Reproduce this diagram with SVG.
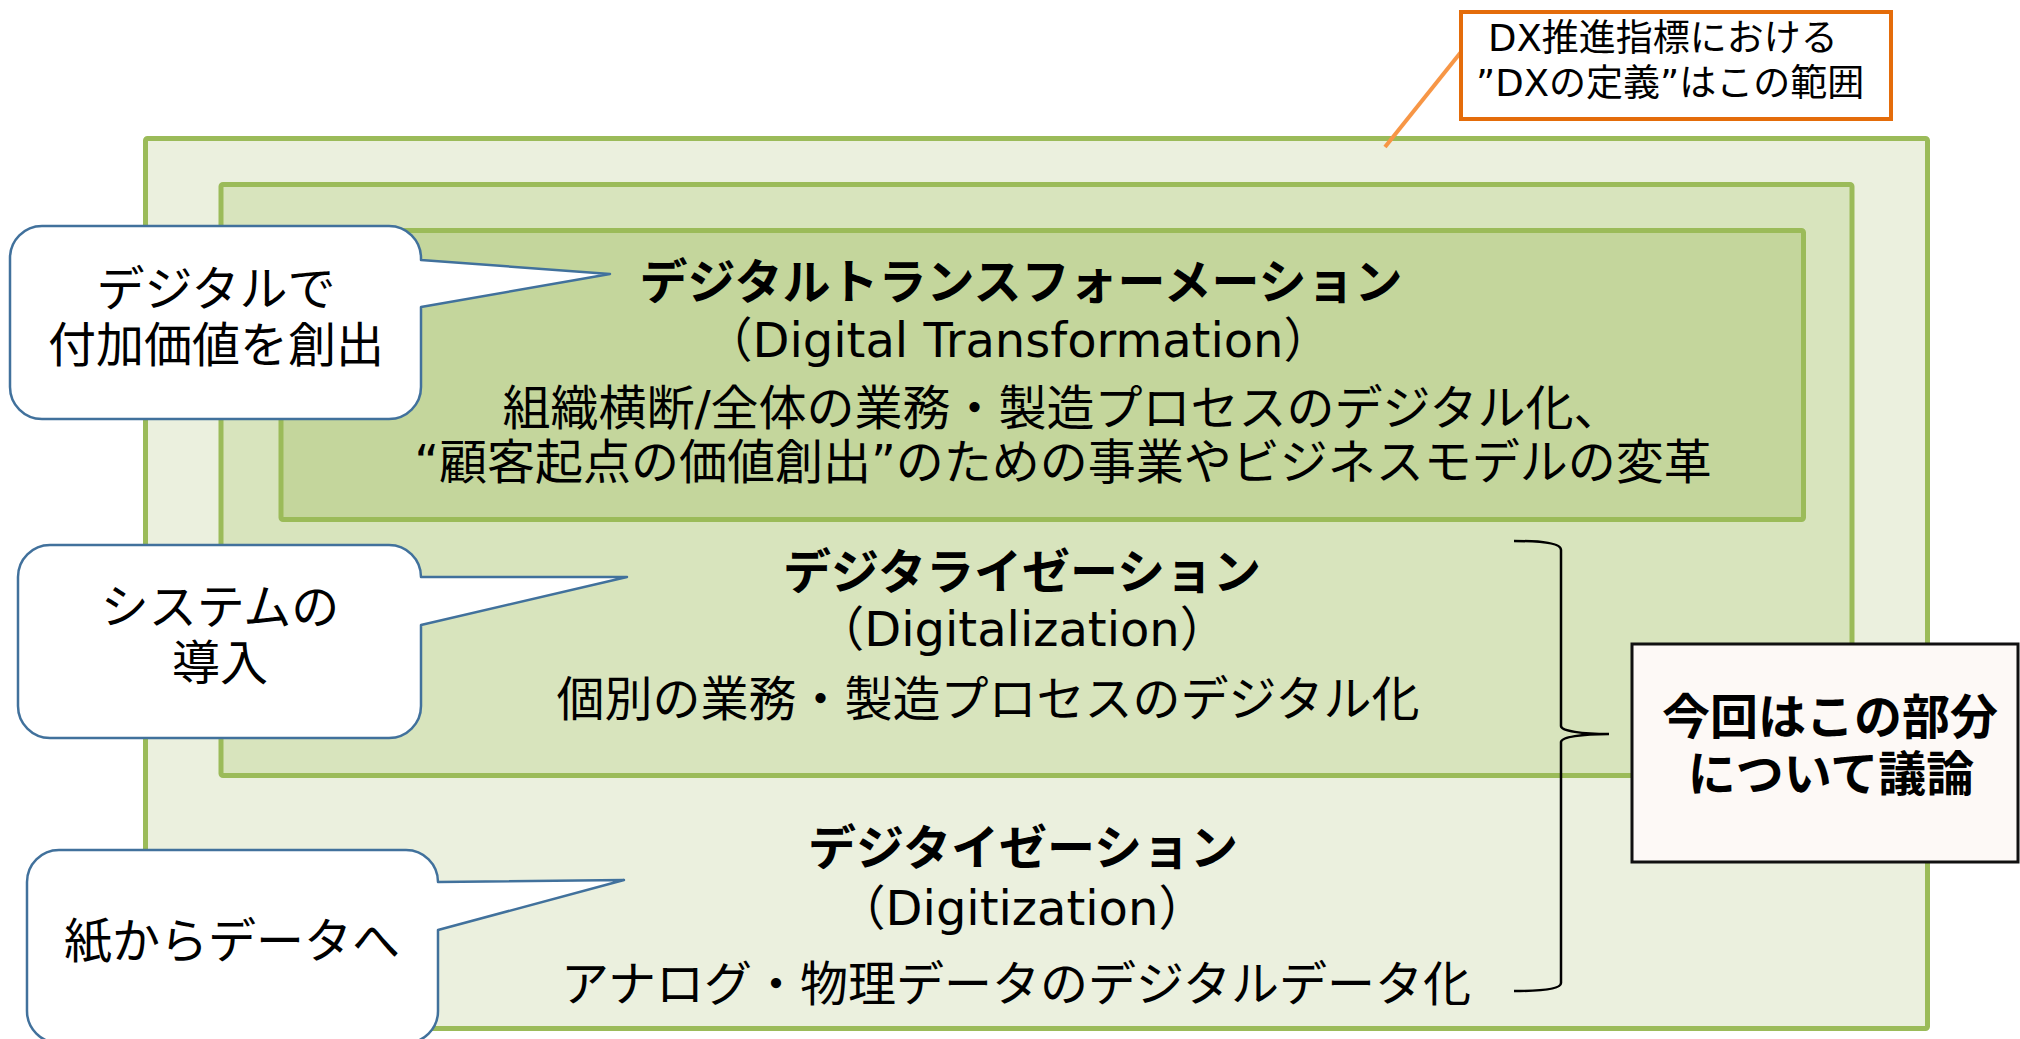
<svg xmlns="http://www.w3.org/2000/svg" width="2020" height="1039" viewBox="0 0 2020 1039">
<style>
.layer{stroke:#9BBB59;stroke-width:5}
.t{font-family:"Noto Sans CJK JP",sans-serif;font-size:48px;fill:#000;text-anchor:middle}
.lat{font-family:"DejaVu Sans","Noto Sans CJK JP",sans-serif}
.b{font-weight:bold}
.call{fill:#fff;stroke:#41719C;stroke-width:2.5;stroke-linejoin:round}
.note{fill:#fff;stroke:#E46C0A;stroke-width:4}
.nt{font-family:"DejaVu Sans","Noto Sans CJK JP",sans-serif;font-size:37px;fill:#000}
</style>
<rect width="2020" height="1039" fill="#fff"/>
<g id="digitization">
<rect class="layer" x="145.5" y="138.5" width="1782" height="890" rx="2" fill="#EBF0DE"/>
<text class="t b" x="1023" y="865">デジタイゼーション</text>
<text class="t lat" x="1022" y="925" font-size="45">（Digitization）</text>
<text class="t" x="1016" y="1001">アナログ・物理データのデジタルデータ化</text>
</g>
<g id="digitalization">
<rect class="layer" x="221" y="184.5" width="1631" height="591" rx="2" fill="#D8E4BD"/>
<text class="t b" x="1022" y="589">デジタライゼーション</text>
<text class="t lat" x="1022" y="646" font-size="45">（Digitalization）</text>
<text class="t" x="988" y="716">個別の業務・製造プロセスのデジタル化</text>
</g>
<g id="dx">
<rect class="layer" x="281" y="230.5" width="1522.5" height="289" rx="2" fill="#C4D69C"/>
<text class="t b" x="1021" y="299">デジタルトランスフォーメーション</text>
<text class="t lat" x="1018" y="357" font-size="45">（Digital Transformation）</text>
<text class="t lat" x="1062" y="425">組織横断/全体の業務・製造プロセスのデジタル化、</text>
<text class="t lat" x="1063" y="479">“顧客起点の価値創出”のための事業やビジネスモデルの変革</text>
</g>
<g id="connectors" fill="none">
<line x1="1461" y1="52" x2="1385" y2="147" stroke="#F79646" stroke-width="4"/>
<path d="M1514 541 C1542 541 1561 543 1561 550 V726 C1561 731 1582 734 1609 734 C1582 734 1561 737 1561 742 V983 C1561 989 1542 991 1514 991" stroke="#000" stroke-width="2.5"/>
</g>
<g id="note-dx-definition">
<rect class="note" x="1461" y="12" width="430" height="107"/>
<text class="nt" x="1488" y="51">DX推進指標における</text>
<text class="nt" x="1476" y="96">”DXの定義”はこの範囲</text>
</g>
<g id="callout-value">
<path class="call" d="M42 226 H389 A32 32 0 0 1 421 258 V260 L610 274 L421 307 V387 A32 32 0 0 1 389 419 H42 A32 32 0 0 1 10 387 V258 A32 32 0 0 1 42 226 Z"/>
<text class="t" x="216" y="306">デジタルで</text>
<text class="t" x="216" y="362">付加価値を創出</text>
</g>
<g id="callout-system">
<path class="call" d="M50 545 H389 A32 32 0 0 1 421 577 L627 577 L421 625 V706 A32 32 0 0 1 389 738 H50 A32 32 0 0 1 18 706 V577 A32 32 0 0 1 50 545 Z"/>
<text class="t" x="220" y="624">システムの</text>
<text class="t" x="220" y="680">導入</text>
</g>
<g id="callout-paper">
<path class="call" d="M59 850 H406 A32 32 0 0 1 438 882 L624 880 L438 930 V1011 A32 32 0 0 1 406 1043 H59 A32 32 0 0 1 27 1011 V882 A32 32 0 0 1 59 850 Z"/>
<text class="t" x="232" y="958">紙からデータへ</text>
</g>
<g id="discussion-scope">
<rect x="1632" y="644" width="386" height="218" fill="#FDF9F6" stroke="#111" stroke-width="3"/>
<text class="t b" x="1830" y="734">今回はこの部分</text>
<text class="t b" x="1831" y="791">について議論</text>
</g>
</svg>
